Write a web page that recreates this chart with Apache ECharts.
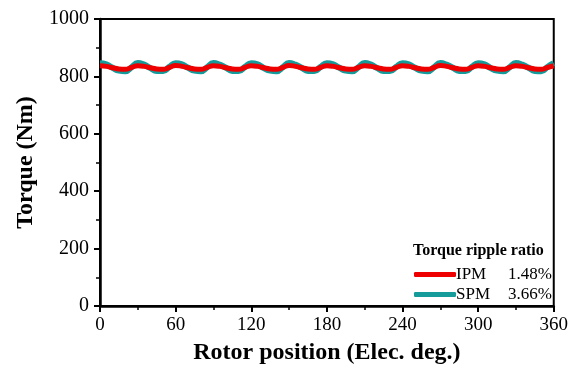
<!DOCTYPE html>
<html>
<head>
<meta charset="utf-8">
<script src="https://cdn.jsdelivr.net/npm/echarts@6/dist/echarts.min.js"></script>
<style>
  html, body { margin: 0; padding: 0; background: #fff; }
  #chart { width: 571px; height: 370px; }
</style>
</head>
<body>
<div id="chart"></div>
<script>
// Rotor position samples (electrical degrees)
const positions = [
  0, 5, 10, 15, 20, 25, 30, 35, 40, 45, 50, 55,
  60, 65, 70, 75, 80, 85, 90, 95, 100, 105, 110, 115,
  120, 125, 130, 135, 140, 145, 150, 155, 160, 165, 170, 175,
  180, 185, 190, 195, 200, 205, 210, 215, 220, 225, 230, 235,
  240, 245, 250, 255, 260, 265, 270, 275, 280, 285, 290, 295,
  300, 305, 310, 315, 320, 325, 330, 335, 340, 345, 350, 355,
  360
];

// Torque (Nm) of the interior PM machine
const ipmTorque = [
  837, 835, 830, 826, 825, 831, 837, 835, 830, 826, 825, 831,
  838, 835, 830, 826, 825, 831, 837, 835, 830, 826, 825, 831,
  837, 835, 830, 826, 825, 831, 838, 835, 830, 826, 825, 831,
  837, 835, 830, 826, 825, 831, 837, 835, 830, 826, 825, 831,
  837, 835, 830, 826, 825, 831, 838, 835, 830, 826, 825, 831,
  837, 835, 830, 826, 825, 831, 837, 835, 830, 826, 825, 831,
  837
];

// Torque (Nm) of the surface PM machine
const spmTorque = [
  846, 842, 830, 820, 818, 832, 847, 841, 829, 819, 819, 833,
  846, 842, 830, 820, 818, 832, 847, 841, 830, 819, 819, 833,
  846, 842, 829, 820, 818, 832, 847, 841, 830, 819, 819, 833,
  846, 842, 830, 820, 818, 832, 847, 841, 829, 819, 819, 833,
  846, 842, 830, 820, 818, 832, 847, 841, 830, 819, 819, 833,
  846, 842, 829, 820, 818, 832, 847, 841, 830, 819, 818, 833,
  846
];

const seriesNames = ['IPM', 'SPM'];
const rippleRatios = ['1.48%', '3.66%'];
const legendTitle = 'Torque ripple ratio';

const xTicks = [0, 60, 120, 180, 240, 300, 360];
const yTicks = [0, 200, 400, 600, 800, 1000];

const serif = '"Liberation Serif", "Times New Roman", serif';
const RED = '#ee0000';
const TEAL = '#169b9b';

const pairs = (xs, ys) => xs.map((x, i) => [x, ys[i]]);

const chart = echarts.init(document.getElementById('chart'), null, { renderer: 'canvas' });

chart.setOption({
  animation: false,
  backgroundColor: '#fff',
  grid: {
    left: 100, right: 16, top: 19, bottom: 59,
    show: true, borderColor: '#000', borderWidth: 2, backgroundColor: 'transparent'
  },
  xAxis: {
    type: 'value',
    min: xTicks[0], max: xTicks[xTicks.length - 1], interval: 60,
    name: 'Rotor position (Elec. deg.)',
    nameLocation: 'middle', nameGap: 35,
    nameTextStyle: { fontFamily: serif, fontWeight: 'bold', fontSize: 24, color: '#000' },
    axisLine: { show: true, onZero: false, lineStyle: { color: '#000', width: 2.5 } },
    axisTick: { show: true, inside: false, length: 6, lineStyle: { color: '#000', width: 2 } },
    minorTick: { show: true, splitNumber: 2, length: 4, lineStyle: { color: '#000', width: 1.5 } },
    axisLabel: { fontFamily: serif, fontSize: 19, color: '#000', margin: 10, formatter: v => String(v) },
    splitLine: { show: false }
  },
  yAxis: {
    type: 'value',
    min: yTicks[0], max: yTicks[yTicks.length - 1], interval: 200,
    name: 'Torque (Nm)',
    nameLocation: 'middle', nameGap: 61, nameRotate: 90,
    nameTextStyle: { fontFamily: serif, fontWeight: 'bold', fontSize: 24, color: '#000' },
    axisLine: { show: true, onZero: false, lineStyle: { color: '#000', width: 2.5 } },
    axisTick: { show: true, inside: false, length: 6, lineStyle: { color: '#000', width: 2 } },
    minorTick: { show: true, splitNumber: 2, length: 4, lineStyle: { color: '#000', width: 1.5 } },
    axisLabel: { fontFamily: serif, fontSize: 20, color: '#000', margin: 11, formatter: v => String(v) },
    splitLine: { show: false }
  },
  legend: {
    orient: 'vertical',
    left: 409, top: 261,
    itemWidth: 42, itemHeight: 5, itemGap: 3,
    icon: 'roundRect',
    data: seriesNames,
    formatter: name => `{n|${name}}{v|${rippleRatios[seriesNames.indexOf(name)]}}`,
    textStyle: {
      fontFamily: serif, fontSize: 17, color: '#000', padding: [0, 0, 0, -5],
      rich: {
        n: { fontFamily: serif, fontSize: 17, color: '#000', width: 52 },
        v: { fontFamily: serif, fontSize: 17, color: '#000', width: 44, align: 'right' }
      }
    }
  },
  graphic: [{
    type: 'text', left: 413, top: 243,
    style: { text: legendTitle, font: 'bold 16px ' + serif, fill: '#000' }
  }],
  series: [
    {
      name: 'SPM', type: 'line', data: pairs(positions, spmTorque),
      smooth: 0.5, showSymbol: false, symbol: 'none',
      itemStyle: { color: TEAL },
      lineStyle: { color: TEAL, width: 6 }, z: 2
    },
    {
      name: 'IPM', type: 'line', data: pairs(positions, ipmTorque),
      smooth: 0.5, showSymbol: false, symbol: 'none',
      itemStyle: { color: RED },
      lineStyle: { color: RED, width: 5 }, z: 3
    }
  ]
});
</script>
</body>
</html>
